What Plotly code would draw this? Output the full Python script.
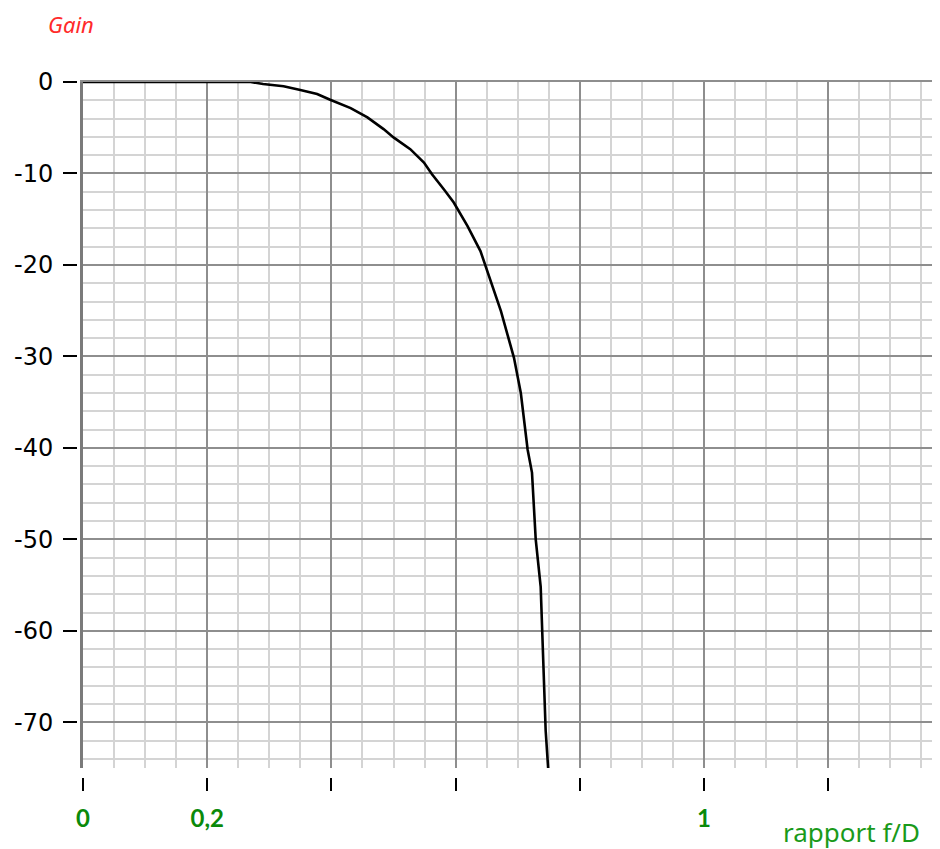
import plotly.graph_objects as go

# Data
ratio_fD = [0, 0.1, 0.2, 0.25, 0.27, 0.29, 0.323, 0.35, 0.377, 0.398, 0.431, 0.458,
            0.484, 0.5, 0.527, 0.549, 0.562, 0.581, 0.597, 0.619, 0.64, 0.673, 0.694,
            0.705, 0.716, 0.723, 0.729, 0.737, 0.740, 0.745, 0.749]
gain_db = [0, 0, 0, 0, 0, -0.22, -0.47, -0.88, -1.31, -1.94, -2.85, -3.87,
           -5.15, -6.06, -7.34, -8.8, -10.08, -11.73, -13.18, -15.74, -18.48, -25.05, -30.16,
           -34.0, -40.2, -42.7, -50.0, -55.2, -61.4, -70.9, -75.0]

x_tick_vals = [0, 0.2, 0.4, 0.6, 0.8, 1.0, 1.2]
x_tick_text = ["0", "0,2", "", "", "", "1", ""]
y_tick_vals = [0, -10, -20, -30, -40, -50, -60, -70]
y_tick_text = ["0", "-10", "-20", "-30", "-40", "-50", "-60", "-70"]

X_RANGE = [0, 1.38]
Y_RANGE = [-75, 0]

# page body has an 8px margin: figure coordinates = window coordinates - 8
OFF = 8
W, H = 932, 841
T = 82 - OFF
plot_h = H - T
x_dom0 = (83 - OFF) / W
y_dom0 = (H - (768 - OFF)) / plot_h

fig = go.Figure()
fig.add_trace(go.Scatter(
    x=ratio_fD, y=gain_db, mode="lines",
    line=dict(color="black", width=2.6),
    hoverinfo="skip", showlegend=False,
))
# empty trace so that the detached tick axes are drawn
fig.add_trace(go.Scatter(x=[], y=[], mode="lines", xaxis="x2", yaxis="y2",
                         hoverinfo="skip", showlegend=False))

MAJOR = "#8e8e8e"
MINOR = "#d4d4d4"

fig.update_layout(
    width=W, height=H,
    margin=dict(l=0, r=0, t=T, b=0, autoexpand=False),
    paper_bgcolor="white", plot_bgcolor="white",
    showlegend=False,
    xaxis=dict(
        domain=[x_dom0, 1], range=X_RANGE, side="top",
        showgrid=True, dtick=0.2, tick0=0, gridcolor=MAJOR, gridwidth=2,
        minor=dict(dtick=0.05, tick0=0, showgrid=True, gridcolor=MINOR, gridwidth=2),
        showline=True, linecolor=MAJOR, linewidth=2,
        showticklabels=False, ticks="", zeroline=False, fixedrange=True,
    ),
    yaxis=dict(
        domain=[y_dom0, 1], range=Y_RANGE,
        showgrid=True, dtick=10, tick0=0, gridcolor=MAJOR, gridwidth=2,
        minor=dict(dtick=2, tick0=0, showgrid=True, gridcolor=MINOR, gridwidth=2),
        showline=True, linecolor="#7a7a7a", linewidth=3,
        showticklabels=False, ticks="", zeroline=False, fixedrange=True,
    ),
    xaxis2=dict(
        overlaying="x", anchor="free", position=(H - (777 - OFF)) / plot_h, side="bottom",
        domain=[x_dom0, 1],
        range=X_RANGE, tickmode="array", tickvals=x_tick_vals, ticktext=x_tick_text,
        ticks="outside", ticklen=13, tickwidth=2, tickcolor="black",
        showgrid=False, showline=False, zeroline=False, fixedrange=True,
        ticklabelstandoff=7,
        tickfont=dict(family="Lato, Noto Sans, sans-serif", size=24, color="#0a8a0a", weight="bold"),
    ),
    yaxis2=dict(
        overlaying="y", anchor="free", position=(77 - OFF) / W, side="left",
        domain=[y_dom0, 1],
        range=Y_RANGE, tickmode="array", tickvals=y_tick_vals, ticktext=y_tick_text,
        ticks="outside", ticklen=14, tickwidth=2, tickcolor="black",
        showgrid=False, showline=False, zeroline=False, fixedrange=True,
        ticklabelstandoff=5,
        tickfont=dict(family="DejaVu Sans, sans-serif", size=24, color="black"),
    ),
    annotations=[
        dict(text="Gain", xref="paper", yref="paper", x=(46 - OFF) / W, y=(H - (24 - OFF)) / plot_h,
             xanchor="left", yanchor="middle", showarrow=False,
             font=dict(family="Noto Sans, sans-serif", size=22, color="#ff2a2a", style="italic")),
        dict(text="rapport f/D", xref="paper", yref="paper", x=(922 - OFF) / W, y=(H - (832 - OFF)) / plot_h,
             xanchor="right", yanchor="middle", showarrow=False,
             font=dict(family="Noto Sans, sans-serif", size=26, color="#1a9a1a")),
    ],
)

fig.write_html("out.html")
